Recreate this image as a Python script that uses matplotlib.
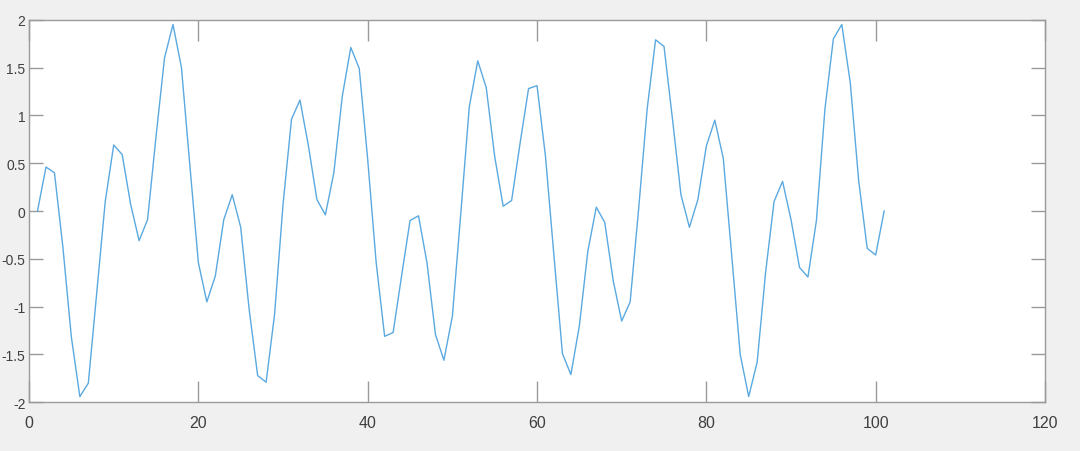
import numpy as np
import matplotlib
matplotlib.use("Agg")
import matplotlib.pyplot as plt

# sample index and signal values
x = np.arange(1, 102)
y = [0.00, 0.46, 0.40, -0.38, -1.32, -1.94, -1.80, -0.85, 0.10, 0.69,
     0.59, 0.07, -0.31, -0.09, 0.78, 1.60, 1.95, 1.50, 0.47, -0.54,
     -0.95, -0.68, -0.09, 0.17, -0.17, -1.03, -1.72, -1.79, -1.08, 0.07,
     0.96, 1.16, 0.68, 0.12, -0.04, 0.40, 1.20, 1.71, 1.49, 0.54,
     -0.54, -1.31, -1.27, -0.68, -0.10, -0.05, -0.54, -1.29, -1.56, -1.10,
     -0.02, 1.09, 1.57, 1.29, 0.57, 0.05, 0.11, 0.71, 1.28, 1.31,
     0.57, -0.47, -1.49, -1.71, -1.20, -0.42, 0.04, -0.12, -0.73, -1.15,
     -0.95, 0.02, 1.06, 1.79, 1.72, 0.96, 0.17, -0.17, 0.12, 0.68,
     0.95, 0.55, -0.47, -1.50, -1.94, -1.58, -0.64, 0.10, 0.31, -0.09,
     -0.59, -0.69, -0.10, 1.06, 1.80, 1.95, 1.34, 0.31, -0.39, -0.46,
     0.00]

xticks = [0, 20, 40, 60, 80, 100, 120]
yticks = [-2, -1.5, -1, -0.5, 0, 0.5, 1, 1.5, 2]
ytick_labels = ["-2", "-1.5", "-1", "-0.5", "0", "0.5", "1", "1.5", "2"]

fig = plt.figure(figsize=(10.8, 4.52), dpi=100, facecolor="#f0f0f0")
ax = fig.add_axes([0.0269, 0.1077, 0.9407, 0.8465])
ax.set_facecolor("white")

ax.plot(x, y, color="#5aa9e0", linewidth=1.0)

ax.set_xlim(0, 120)
ax.set_ylim(-2, 2)
ax.set_xticks(xticks)
ax.set_yticks(yticks)
ax.set_yticklabels(ytick_labels)

for s in ax.spines.values():
    s.set_color("#9a9a9a")
    s.set_linewidth(1.0)

ax.tick_params(axis="x", direction="in", length=15, width=1.0, color="#9a9a9a",
               top=True, labelsize=11.5, labelcolor="#404040", pad=9)
ax.tick_params(axis="y", direction="in", length=10, width=1.0, color="#9a9a9a",
               right=True, labelsize=10, labelcolor="#404040", pad=2.5)
for lab in ax.get_xticklabels() + ax.get_yticklabels():
    lab.set_family("Liberation Sans")

fig.savefig("out.png", dpi=100, facecolor=fig.get_facecolor())
